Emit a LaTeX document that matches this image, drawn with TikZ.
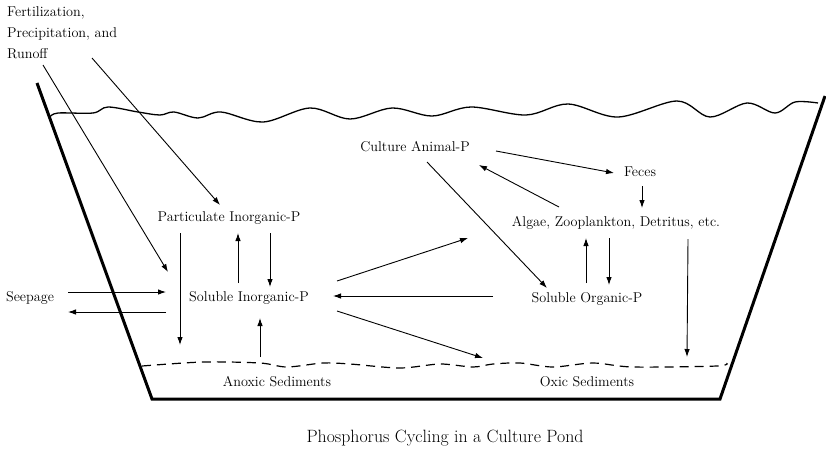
\documentclass[tikz,border=0pt]{standalone}
\usepackage{fontspec}
\usetikzlibrary{arrows.meta,calc}
\begin{document}
\begin{tikzpicture}[x=1pt,y=-1pt,
  lbl/.style={inner sep=0pt,font=\fontsize{14.2}{21}\selectfont},
  arr/.style={-{Latex[length=8pt,width=5.5pt]},line width=0.9pt},
  wall/.style={line width=3pt,line join=miter},
  wave/.style={line width=1.3pt},
  sed/.style={line width=1.2pt,dash pattern=on 9pt off 6pt}]
\useasboundingbox (0,0) rectangle (826,451);
% pond
\draw[wall] (37,83) -- (152,399) -- (720,399) -- (825,96);
\draw[wave] plot[smooth,tension=0.55] coordinates {(50,117) (58,113) (93,113) (108,107) (138,112) (160,115) (174,112) (198,118) (221,112) (263,122) (310,108) (350,119) (392,108) (432,116) (471,107) (526,115) (568,104) (618,117) (677,101) (710,117) (747,103) (775,113) (795,102) (818,103)};
\draw[sed] plot[smooth,tension=0.5] coordinates {(142,366) (203,362) (260,363) (287,367) (323,363) (350,364) (400,368) (440,364) (473,367) (493,364) (520,363) (553,367) (593,363) (633,367) (717,366) (727,363)};
% labels
\node[lbl,align=left,anchor=west] (fert) at (7,33) {Fertilization,\\Precipitation, and\\Runoff};
\node[lbl] (pip) at (229,218) {Particulate Inorganic-P};
\node[lbl] (sip) at (249,298) {Soluble Inorganic-P};
\node[lbl] (seep) at (30,298) {Seepage};
\node[lbl] (cap) at (415,147) {Culture Animal-P};
\node[lbl] (feces) at (640,172) {Feces};
\node[lbl] (algae) at (616,223) {Algae, Zooplankton, Detritus, etc.};
\node[lbl] (sop) at (587,299) {Soluble Organic-P};
\node[lbl] (anoxic) at (277,382) {Anoxic Sediments};
\node[lbl] (oxic) at (587,382) {Oxic Sediments};
\node[inner sep=0pt,font=\fontsize{17.8}{20}\selectfont] (caption) at (445,438) {Phosphorus Cycling in a Culture Pond};
\coordinate (f1) at (43,65);
\coordinate (f2) at (92,58);
% connectors
\draw[arr] (f1) -- ($(sip)+(-81,-26)$);
\draw[arr] (f2) -- ($(pip)+(-9,-13)$);
\draw[arr] ($(sip)+(-11,-15)$) -- ($(pip)+(9,15)$);
\draw[arr] ($(pip)+(41,15)$) -- ($(sip)+(21,-11)$);
\draw[arr] ($(pip)+(-49,15)$) -- ($(anoxic)+(-97,-37)$);
\draw[arr] ($(seep)+(38,-6)$) -- ($(sip)+(-83,-6)$);
\draw[arr] ($(sip)+(-83,14)$) -- ($(seep)+(38,14)$);
\draw[arr] ($(anoxic)+(-17,-25)$) -- ($(sip)+(11,20)$);
\draw[arr] ($(sip)+(88,-17)$) -- ($(algae)+(-148,15)$);
\draw[arr] ($(sop)+(-94,-3)$) -- ($(sip)+(84,-2)$);
\draw[arr] ($(sip)+(88,13)$) -- ($(oxic)+(-104,-24)$);
\draw[arr] ($(cap)+(12,15)$) -- ($(sop)+(-40,-11)$);
\draw[arr] ($(cap)+(81,4)$) -- ($(feces)+(-26,1)$);
\draw[arr] ($(algae)+(-57,-16)$) -- ($(cap)+(64,18)$);
\draw[arr] ($(feces)+(2,14)$) -- ($(algae)+(26,-15)$);
\draw[arr] ($(sop)+(-1,-16)$) -- ($(algae)+(-30,15)$);
\draw[arr] ($(algae)+(-7,15)$) -- ($(sop)+(22,-14)$);
\draw[arr] ($(algae)+(72,16)$) -- ($(oxic)+(100,-25)$);
\end{tikzpicture}
\end{document}
